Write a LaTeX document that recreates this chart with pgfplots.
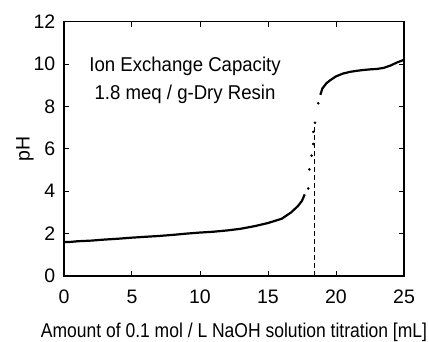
\documentclass[border=0pt]{standalone}
\usepackage{fontspec}
\setmainfont{Liberation Sans}
\newfontfamily\narrowfont{Liberation Sans}[FakeStretch=0.875]
\newfontfamily\notefont{Liberation Sans}[FakeStretch=0.93]
\usepackage{pgfplots}
\pgfplotsset{compat=1.18}
\begin{document}
\fontsize{19.5bp}{24bp}\selectfont
\begin{tikzpicture}
\path[use as bounding box] (-64bp,-66bp) rectangle (365bp,276bp);
\begin{axis}[
  at={(0,0)}, anchor=south west,
  scale only axis, width=340bp, height=254.3bp,
  xmin=0, xmax=25, ymin=0, ymax=12,
  xtick={0,5,...,25}, ytick={0,2,...,12},
  tick align=inside, major tick length=5bp,
  tick style={line width=1bp, black},
  axis line style={line width=1.2bp},
  /pgf/number format/assume math mode=true,
  tick label style={font=\fontsize{19.5bp}{24bp}\selectfont},
  xticklabel style={yshift=-7bp},
  yticklabel style={xshift=-2bp},
  xlabel={Amount of 0.1 mol / L NaOH solution titration [mL]},
  ylabel={pH},
  xlabel style={at={(axis description cs:0.5,-0.222)}, anchor=center, font=\narrowfont\fontsize{20bp}{24bp}\selectfont},
  ylabel style={at={(axis description cs:-0.115,0.5)}, anchor=center, font=\fontsize{19.5bp}{24bp}\selectfont},
  clip=false,
]
\addplot[black, line width=2.2bp, line join=round] coordinates {
(0,1.60) (0.5,1.61) (1,1.64) (2,1.67) (3,1.72) (4,1.76) (5,1.81) (6,1.85)
(7,1.89) (8,1.94) (9,2.00) (10,2.05) (11,2.09) (12,2.15) (13,2.23) (14,2.35)
(15,2.50) (16,2.70) (16.7,3.00) (17.2,3.30) (17.5,3.55) (17.7,3.85)
};
\addplot[black, only marks, mark=*, mark size=1.1bp] coordinates {
(17.96,4.13) (18.04,5.03) (18.2,5.68) (18.33,6.23) (18.33,6.8) (18.45,7.23) (18.7,8.15)
};
\addplot[black, line width=2.2bp, line join=round] coordinates {
(18.85,8.55) (19.0,8.85) (19.3,9.10) (19.6,9.25) (20.0,9.42) (20.5,9.55)
(21.0,9.63) (21.5,9.68) (22.0,9.72) (22.5,9.75) (23.0,9.77) (23.5,9.82)
(24.0,9.93) (24.5,10.08) (25.0,10.20)
};
\addplot[black, line width=1.2bp, dash pattern=on 5bp off 3bp] coordinates {(18.4,0) (18.4,7.1)};
\node[align=center, font=\notefont\fontsize{20bp}{28bp}\selectfont] at (axis cs:8.9,9.25) {Ion Exchange Capacity\\1.8 meq / g-Dry Resin};
\end{axis}
\end{tikzpicture}
\end{document}
